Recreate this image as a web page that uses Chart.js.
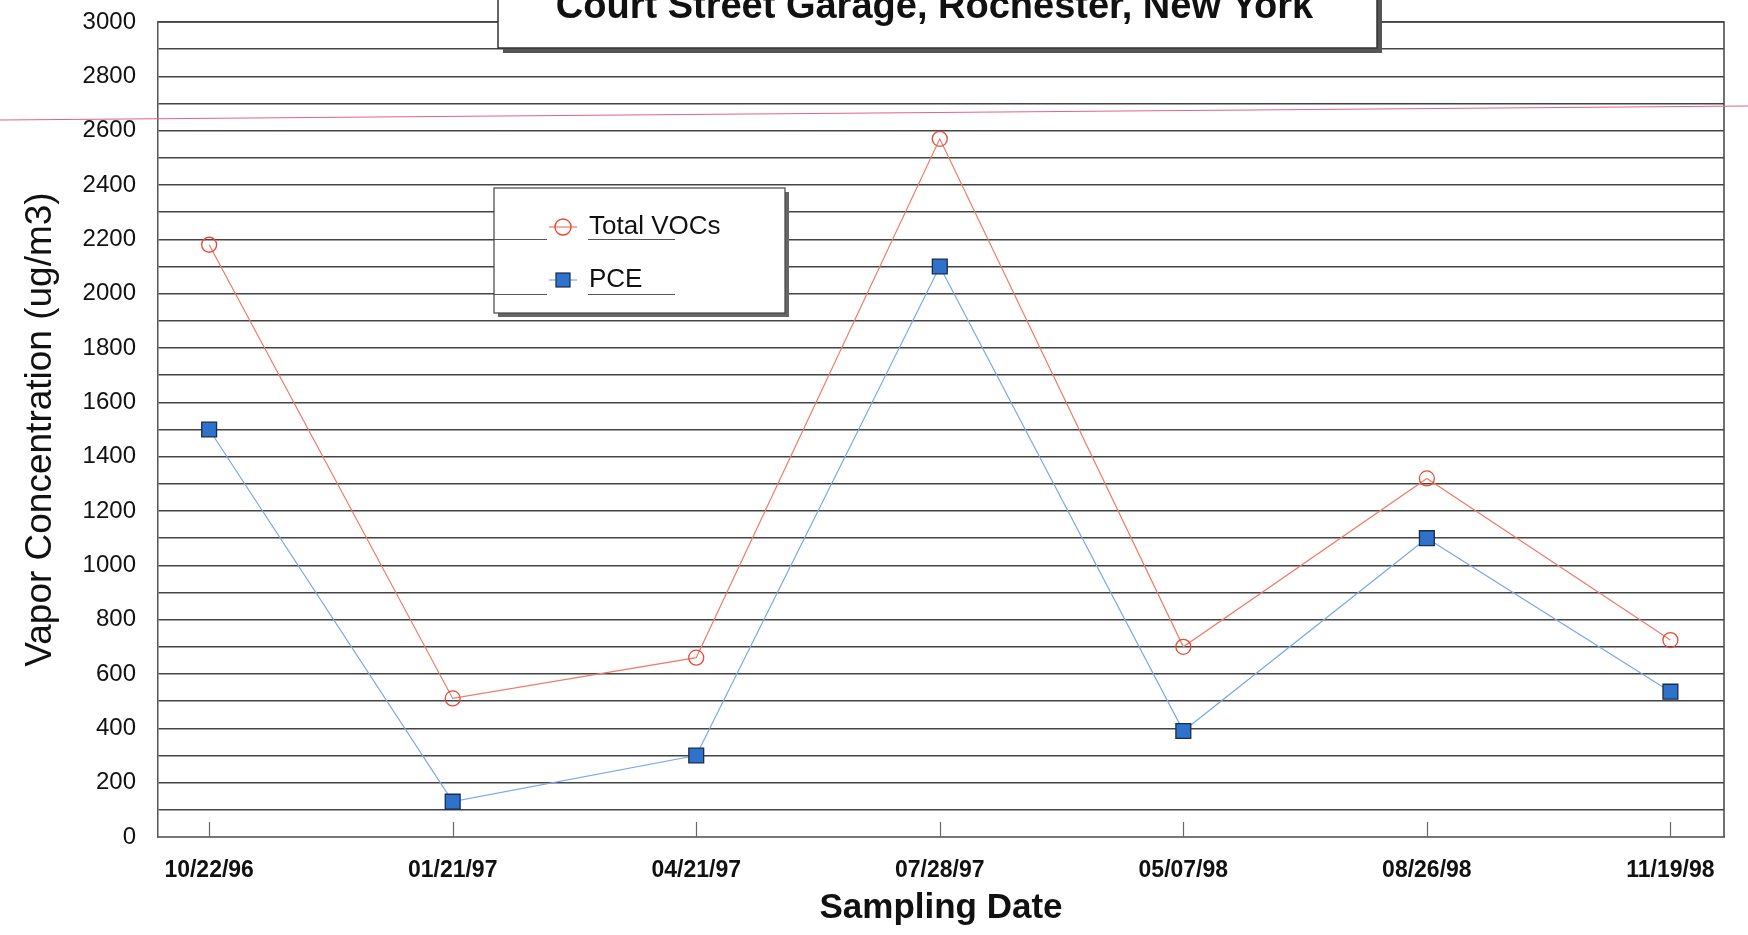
<!DOCTYPE html>
<html><head><meta charset="utf-8">
<script src="https://cdn.jsdelivr.net/npm/chart.js@4/dist/chart.umd.min.js"></script>
<style>html,body{margin:0;padding:0;background:#fff;overflow:hidden}</style>
</head><body>
<canvas id="c" width="1748" height="935" style="width:1748px;height:935px;display:block"></canvas>
<script>
const chartTitle = 'Court Street Garage, Rochester, New York';
const samplingDates = ['10/22/96','01/21/97','04/21/97','07/28/97','05/07/98','08/26/98','11/19/98'];
const totalVOCs = [2180, 510, 660, 2570, 700, 1320, 725];
const pce = [1500, 130, 300, 2100, 390, 1100, 535];
const seriesNames = ['Total VOCs', 'PCE'];
const yAxisTitle = 'Vapor Concentration (ug/m3)';
const xAxisTitle = 'Sampling Date';
const legendGridValues = [2200, 2000];

const FONT = "'Liberation Sans', Arial, sans-serif";

const decor = {
  id: 'decor',
  beforeDraw(chart) {
    const ctx = chart.ctx;
    ctx.save();
    ctx.fillStyle = '#fff';
    ctx.fillRect(0, 0, chart.width, chart.height);
    ctx.restore();
  },
  beforeDatasetsDraw(chart) {
    const ctx = chart.ctx, a = chart.chartArea, xs = chart.scales.x;
    ctx.save();
    ctx.strokeStyle = '#444';
    ctx.lineWidth = 1.5;
    ctx.beginPath();
    ctx.moveTo(a.left, a.top); ctx.lineTo(a.right, a.top); ctx.lineTo(a.right, a.bottom);
    ctx.stroke();
    ctx.strokeStyle = '#666';
    ctx.lineWidth = 1.2;
    samplingDates.forEach((d, i) => {
      const px = Math.round(xs.getPixelForValue(i)) + 0.5;
      ctx.beginPath(); ctx.moveTo(px, a.bottom); ctx.lineTo(px, a.bottom - 15); ctx.stroke();
    });
    ctx.restore();
  },
  afterDraw(chart) {
    const ctx = chart.ctx, ys = chart.scales.y;
    ctx.save();
    const tb = {l: 498, t: -6, r: 1377, b: 48};
    ctx.fillStyle = '#555';
    ctx.fillRect(tb.l + 5, tb.t + 5, tb.r - tb.l, tb.b - tb.t);
    ctx.fillStyle = '#fff';
    ctx.fillRect(tb.l, tb.t, tb.r - tb.l, tb.b - tb.t);
    ctx.strokeStyle = '#333'; ctx.lineWidth = 1.5;
    ctx.strokeRect(tb.l, tb.t, tb.r - tb.l, tb.b - tb.t);
    ctx.fillStyle = '#111';
    ctx.font = 'bold 38px ' + FONT;
    ctx.textAlign = 'center'; ctx.textBaseline = 'alphabetic';
    ctx.fillText(chartTitle, (tb.l + tb.r) / 2 - 3, 18);

    const lb = {l: 494, t: 188, r: 785, b: 313};
    ctx.fillStyle = '#666';
    ctx.fillRect(lb.l + 4, lb.t + 4, lb.r - lb.l, lb.b - lb.t);
    ctx.fillStyle = '#fff';
    ctx.fillRect(lb.l, lb.t, lb.r - lb.l, lb.b - lb.t);
    ctx.strokeStyle = '#444'; ctx.lineWidth = 1.2;
    ctx.strokeRect(lb.l, lb.t, lb.r - lb.l, lb.b - lb.t);
    ctx.strokeStyle = '#555'; ctx.lineWidth = 1.2;
    legendGridValues.forEach(v => {
      const py = Math.round(ys.getPixelForValue(v)) + 0.5;
      ctx.beginPath(); ctx.moveTo(lb.l, py); ctx.lineTo(547, py); ctx.stroke();
      ctx.beginPath(); ctx.moveTo(588, py); ctx.lineTo(675, py); ctx.stroke();
    });
    const ds = chart.data.datasets;
    const rows = [227, 280];
    ds.forEach((d, i) => {
      const cy = rows[i], cx = 563;
      ctx.strokeStyle = d.borderColor; ctx.lineWidth = 1.2;
      ctx.beginPath(); ctx.moveTo(cx - 14, cy); ctx.lineTo(cx + 14, cy); ctx.stroke();
      if (i === 0) {
        ctx.strokeStyle = d.pointBorderColor; ctx.lineWidth = 1.4;
        ctx.beginPath(); ctx.arc(cx, cy, 8, 0, Math.PI * 2); ctx.stroke();
      } else {
        ctx.fillStyle = d.pointBackgroundColor;
        ctx.fillRect(cx - 7, cy - 7, 14, 14);
        ctx.strokeStyle = d.pointBorderColor; ctx.lineWidth = 1.2;
        ctx.strokeRect(cx - 7, cy - 7, 14, 14);
      }
      ctx.fillStyle = '#111';
      ctx.font = '26px ' + FONT;
      ctx.textAlign = 'left'; ctx.textBaseline = 'middle';
      ctx.fillText(d.label, 589, cy);
    });

    ctx.strokeStyle = '#e8608a'; ctx.lineWidth = 1.2;
    ctx.beginPath(); ctx.moveTo(0, 120); ctx.lineTo(chart.width, 106); ctx.stroke();
    ctx.restore();
  }
};

new Chart(document.getElementById('c'), {
  type: 'line',
  data: {
    datasets: [
      {
        label: seriesNames[0],
        data: totalVOCs.map((v, i) => ({x: i, y: v})),
        borderColor: '#f07a66',
        borderWidth: 1.2,
        pointStyle: 'circle',
        pointRadius: 7.5,
        pointBackgroundColor: 'rgba(255,255,255,0)',
        pointBorderColor: '#e84a3a',
        pointBorderWidth: 1.3,
        tension: 0
      },
      {
        label: seriesNames[1],
        data: pce.map((v, i) => ({x: i, y: v})),
        borderColor: '#7aa8e8',
        borderWidth: 1.2,
        pointStyle: 'rect',
        pointRadius: 10.5,
        pointBackgroundColor: '#2f72cc',
        pointBorderColor: '#1c2c4c',
        pointBorderWidth: 1.3,
        tension: 0
      }
    ]
  },
  options: {
    responsive: false,
    animation: false,
    devicePixelRatio: 1,
    layout: {padding: {top: 22, right: 24, left: 0, bottom: 0}},
    plugins: {legend: {display: false}, tooltip: {enabled: false}, title: {display: false}},
    scales: {
      x: {
        type: 'linear',
        min: -0.21,
        max: 6.22,
        afterBuildTicks: (s) => { s.ticks = samplingDates.map((d, i) => ({value: i})); },
        afterFit: (s) => { s.height = 98; },
        grid: {display: false, drawTicks: false},
        border: {display: true, color: '#777', width: 2},
        ticks: {
          autoSkip: false,
          maxRotation: 0,
          padding: 20,
          color: '#111',
          font: {family: FONT, size: 23, weight: 'bold'},
          callback: (v) => samplingDates[v] ?? ''
        },
        title: {
          display: true,
          text: xAxisTitle,
          color: '#111',
          font: {family: FONT, size: 35, weight: 'bold'},
          padding: {top: 0, bottom: 6}
        }
      },
      y: {
        min: 0,
        max: 3000,
        afterFit: (s) => { s.width = 158; },
        grid: {color: '#444', lineWidth: 1.5, drawTicks: true, tickLength: 22, tickColor: 'rgba(0,0,0,0)'},
        border: {display: true, color: '#555', width: 1.5},
        ticks: {
          stepSize: 100,
          autoSkip: false,
          padding: 0,
          color: '#111',
          font: {family: FONT, size: 24},
          callback: (v) => (v % 200 === 0 ? String(v) : '')
        },
        title: {
          display: true,
          text: yAxisTitle,
          color: '#111',
          font: {family: FONT, size: 37},
          padding: {top: 19, bottom: 0}
        }
      }
    }
  },
  plugins: [decor]
});
</script>
</body></html>
